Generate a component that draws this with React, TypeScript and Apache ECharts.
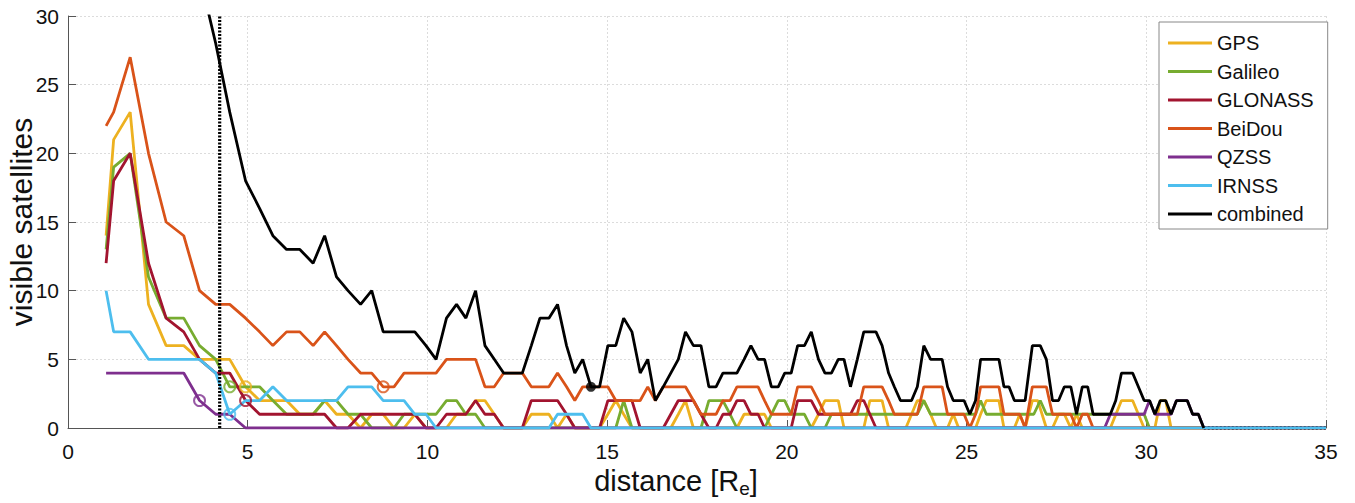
import React, { useEffect, useRef } from 'react';
import * as echarts from 'echarts';

const seriesNames = ['GPS', 'Galileo', 'GLONASS', 'BeiDou', 'QZSS', 'IRNSS', 'combined'];
const seriesColors = ['#EDB120', '#77AC30', '#A2142F', '#D95319', '#7E2F8E', '#4DBEEE', '#000000'];

const xTicks = [0, 5, 10, 15, 20, 25, 30, 35];
const yTicks = [0, 5, 10, 15, 20, 25, 30];

const gps = [[1.06,14],[1.27,21],[1.73,23],[2.24,9],[2.73,6],[3.22,6],[3.66,5],[4.5,5],[4.94,3],[5.33,2],[6.08,2],[6.45,1],[6.82,1],[7.14,2],[7.47,1],[7.79,1],[8.14,0],[8.45,1],[8.77,1],[9.07,0],[9.35,0],[9.65,1],[9.96,0],[10.53,0],[10.81,1],[11.07,1],[11.34,2],[11.6,2],[11.86,1],[12.12,0],[12.64,0],[12.89,1],[13.38,1],[13.62,0],[13.87,1],[14.1,0],[14.79,0],[15.02,1],[15.24,2],[15.46,1],[15.69,0],[16.77,0],[16.98,1],[17.18,2],[17.4,0],[18.61,0],[18.81,1],[19.38,1],[19.57,0],[20.68,0],[20.88,1],[21.06,2],[21.43,2],[21.59,0],[22.14,0],[22.31,2],[22.65,2],[22.83,0],[23.31,0],[23.47,1],[23.63,2],[23.81,2],[24.0,1],[24.16,0],[24.47,0],[24.63,1],[24.78,0],[25.25,0],[25.39,1],[25.55,2],[25.9,2],[26.04,0],[26.33,0],[26.48,1],[26.63,0],[26.83,2],[26.98,2],[27.22,0],[27.39,0],[27.56,1],[27.72,1],[27.9,0],[28.06,1],[28.22,0],[29.0,0],[29.31,2],[29.62,2],[29.94,0],[30.24,0],[30.39,2],[30.54,2],[30.69,0],[35,0]];

const galileo = [[1.06,13],[1.27,19],[1.73,20],[2.24,11],[2.73,8],[3.22,8],[3.66,6],[4.11,5],[4.5,3],[5.33,3],[5.7,2],[6.08,1],[6.82,1],[7.14,2],[7.47,2],[7.79,1],[8.14,1],[8.45,0],[9.07,0],[9.35,1],[10.24,1],[10.53,2],[10.81,2],[11.07,1],[11.34,1],[11.6,0],[15.24,0],[15.46,2],[15.69,0],[17.61,0],[17.83,2],[18.22,2],[18.42,1],[18.61,0],[19.38,0],[19.57,1],[19.76,2],[19.94,2],[20.12,1],[20.49,1],[20.68,0],[21.06,0],[21.24,1],[23.63,1],[23.81,2],[24.0,1],[25.25,1],[25.39,2],[25.55,1],[26.87,1],[27.05,2],[27.22,1],[29.94,1],[30.09,0],[35,0]];

const glonass = [[1.06,12],[1.27,18],[1.73,20],[2.24,12],[2.73,8],[3.22,7],[3.66,5],[4.11,4],[4.5,4],[4.94,2],[5.33,1],[7.14,1],[7.47,0],[7.79,0],[8.14,1],[9.65,1],[9.96,0],[10.24,0],[10.53,1],[11.07,1],[11.34,2],[11.6,1],[11.86,1],[12.12,0],[12.64,0],[12.89,2],[13.62,2],[13.87,1],[14.1,0],[14.79,0],[15.02,2],[15.69,2],[15.92,0],[16.56,0],[16.77,1],[16.98,2],[17.4,2],[17.61,1],[17.83,0],[18.03,0],[18.22,1],[18.42,1],[18.61,2],[18.81,2],[19.0,1],[19.2,1],[19.38,0],[20.12,0],[20.3,2],[20.68,2],[20.88,1],[21.24,1],[21.77,1],[21.96,2],[22.14,2],[22.31,1],[22.48,0],[35,0]];

const beidou = [[1.06,22],[1.27,23],[1.73,27],[2.24,20],[2.73,15],[3.22,14],[3.66,10],[4.11,9],[4.5,9],[4.94,8],[5.33,7],[5.7,6],[6.08,7],[6.45,7],[6.82,6],[7.14,7],[7.47,6],[7.79,5],[8.14,4],[8.45,4],[8.77,3],[9.07,3],[9.35,4],[10.24,4],[10.53,5],[11.34,5],[11.6,3],[11.86,3],[12.12,4],[12.64,4],[12.89,3],[13.38,3],[13.62,4],[13.87,3],[14.1,2],[14.32,3],[15.02,3],[15.24,2],[15.92,2],[16.13,3],[16.34,2],[16.56,3],[17.18,3],[17.4,2],[17.61,1],[18.03,1],[18.22,2],[18.42,2],[18.61,3],[19.2,3],[19.38,2],[19.57,1],[20.12,1],[20.3,3],[20.68,3],[20.88,2],[21.06,1],[21.96,1],[22.14,3],[22.65,3],[22.83,2],[22.99,1],[23.63,1],[23.81,3],[24.32,3],[24.47,1],[24.93,1],[25.09,0],[25.25,1],[25.39,3],[25.9,3],[26.04,1],[26.48,1],[26.63,0],[26.83,3],[27.22,3],[27.39,1],[27.9,1],[28.06,0],[28.22,1],[28.37,1],[28.52,0],[35,0]];

const qzss = [[1.06,4],[3.22,4],[3.66,2],[4.11,1],[4.5,1],[4.94,0],[28.84,0],[29.0,1],[29.94,1],[30.09,2],[30.24,1],[30.69,1],[30.84,2],[31.14,2],[31.29,1],[31.45,1],[31.6,0],[35,0]];

const irnss = [[1.06,10],[1.27,7],[1.73,7],[2.24,5],[3.66,5],[4.11,4],[4.5,1],[4.94,2],[5.33,2],[5.7,3],[6.08,2],[7.47,2],[7.79,3],[8.45,3],[8.77,2],[9.35,2],[9.65,1],[9.96,1],[10.24,0],[13.38,0],[13.62,1],[14.32,1],[14.55,0],[35,0]];

const combined = [[3.22,44],[3.66,33],[4.11,28],[4.5,23],[4.94,18],[5.33,16],[5.7,14],[6.08,13],[6.45,13],[6.82,12],[7.14,14],[7.47,11],[7.79,10],[8.14,9],[8.45,10],[8.77,7],[9.07,7],[9.35,7],[9.65,7],[9.96,6],[10.24,5],[10.53,8],[10.81,9],[11.07,8],[11.34,10],[11.6,6],[11.86,5],[12.12,4],[12.38,4],[12.64,4],[12.89,6],[13.13,8],[13.38,8],[13.62,9],[13.87,6],[14.1,4],[14.32,5],[14.55,3],[14.79,3],[15.02,6],[15.24,6],[15.46,8],[15.69,7],[15.92,4],[16.13,5],[16.34,2],[16.56,3],[16.77,4],[16.98,5],[17.18,7],[17.4,6],[17.61,6],[17.83,3],[18.03,3],[18.22,4],[18.42,4],[18.61,4],[18.81,5],[19.0,6],[19.2,5],[19.38,5],[19.57,3],[19.76,3],[19.94,4],[20.12,4],[20.3,6],[20.49,6],[20.68,7],[20.88,5],[21.06,4],[21.24,4],[21.43,5],[21.59,5],[21.77,3],[21.96,5],[22.14,7],[22.31,7],[22.48,7],[22.65,6],[22.83,4],[22.99,3],[23.16,2],[23.31,2],[23.47,2],[23.63,3],[23.81,6],[24.0,5],[24.16,5],[24.32,5],[24.47,3],[24.63,2],[24.78,2],[24.93,2],[25.09,1],[25.25,2],[25.39,5],[25.55,5],[25.72,5],[25.9,5],[26.04,3],[26.18,3],[26.33,2],[26.48,2],[26.63,2],[26.83,6],[27.05,6],[27.22,5],[27.39,2],[27.56,2],[27.72,3],[27.9,3],[28.06,1],[28.22,3],[28.37,3],[28.52,1],[28.68,1],[28.84,1],[29.0,1],[29.15,2],[29.31,4],[29.46,4],[29.62,4],[29.78,3],[29.94,2],[30.09,2],[30.24,1],[30.39,2],[30.54,2],[30.69,1],[30.84,2],[30.99,2],[31.14,2],[31.29,1],[31.45,1],[31.6,0]];

const combinedTail = [[31.6,0],[35,0]];
const markerLine = [[4.22,0],[4.22,30]];

// hollow circle markers: [seriesIndex, x, y]
const markers = [[4,3.66,2],[1,4.5,3],[0,4.94,3],[2,4.94,2],[5,4.5,1],[3,8.77,3]];
const combinedMarker = [[14.55,3]];

const allData = [gps, galileo, glonass, beidou, qzss, irnss, combined];

export default function App() {
  const ref = useRef<HTMLDivElement>(null);
  useEffect(() => {
    const chart = echarts.init(ref.current as HTMLDivElement, null, { renderer: 'svg' });
    const font = '"Liberation Sans", Arial, Helvetica, sans-serif';
    const mkLine = (i: number) => ({
      type: 'line', name: seriesNames[i], data: allData[i], symbol: 'none', clip: true, silent: true,
      lineStyle: { color: seriesColors[i], width: 2.8 }, itemStyle: { color: seriesColors[i] },
    });
    const series: any[] = [mkLine(0), mkLine(1), mkLine(2), mkLine(3), mkLine(4),
      { type: 'line', name: 'tail', data: combinedTail, symbol: 'none', silent: true,
        lineStyle: { color: '#000', width: 3.5, type: [2, 2] } },
      mkLine(5), mkLine(6),
      { type: 'line', name: 'rvline', data: markerLine, symbol: 'none', silent: true,
        lineStyle: { color: '#000', width: 3.2, type: [2, 1.5] } },
    ];
    markers.forEach((m, k) => {
      series.push({ type: 'scatter', name: 'mk' + k, data: [[m[1], m[2]]], symbol: 'circle', symbolSize: 11, silent: true,
        itemStyle: { color: 'rgba(255,255,255,0)', borderColor: seriesColors[m[0]], borderWidth: 2 }, z: 5 });
    });
    series.push({ type: 'scatter', name: 'mkc', data: combinedMarker, symbol: 'circle', symbolSize: 10, silent: true,
      itemStyle: { color: '#000' }, z: 5 });

    chart.setOption({
      animation: false,
      backgroundColor: '#ffffff',
      grid: { left: 68, right: 29, top: 16, bottom: 75, containLabel: false },
      xAxis: {
        type: 'value', min: xTicks[0], max: xTicks[xTicks.length - 1], interval: 5,
        axisLine: { show: true, lineStyle: { color: '#555', width: 1 } },
        axisTick: { show: true, inside: true, length: 8, lineStyle: { color: '#555' } },
        axisLabel: { color: '#111', fontSize: 21, fontFamily: font, margin: 13 },
        splitLine: { show: true, lineStyle: { color: '#dcdcdc', type: [2, 2], width: 1 } },
      },
      yAxis: {
        type: 'value', min: yTicks[0], max: yTicks[yTicks.length - 1], interval: 5,
        axisLine: { show: true, lineStyle: { color: '#555', width: 1 } },
        axisTick: { show: true, inside: true, length: 8, lineStyle: { color: '#555' } },
        axisLabel: { color: '#111', fontSize: 21, fontFamily: font, margin: 9 },
        splitLine: { show: true, lineStyle: { color: '#dcdcdc', type: [2, 2], width: 1 } },
      },
      legend: {
        data: seriesNames, orient: 'vertical', left: 1159, top: 22, icon: 'rect',
        itemWidth: 44, itemHeight: 3, itemGap: 8.5, selectedMode: false,
        padding: [11, 14, 5, 9], backgroundColor: '#fff', borderColor: '#888', borderWidth: 1,
        textStyle: { color: '#111', fontSize: 20, fontFamily: font, lineHeight: 20 },
      },
      graphic: [
        { type: 'text', x: 676, y: 481, style: { text: 'distance [R{s|e}]', fontSize: 29, fontFamily: font, fill: '#111', align: 'center', verticalAlign: 'middle',
          rich: { s: { fontSize: 19, fontFamily: font, fill: '#111', padding: [15, 0, 0, 0] } } } },
        { type: 'text', x: 21, y: 222, rotation: Math.PI / 2, style: { text: 'visible satellites', fontSize: 30, fontFamily: font, fill: '#111', align: 'center', verticalAlign: 'middle' } },
      ],
      series,
    });
    return () => chart.dispose();
  }, []);
  return <div ref={ref} style={{ position: 'fixed', left: 0, top: 0, width: 1355, height: 503 }} />;
}
